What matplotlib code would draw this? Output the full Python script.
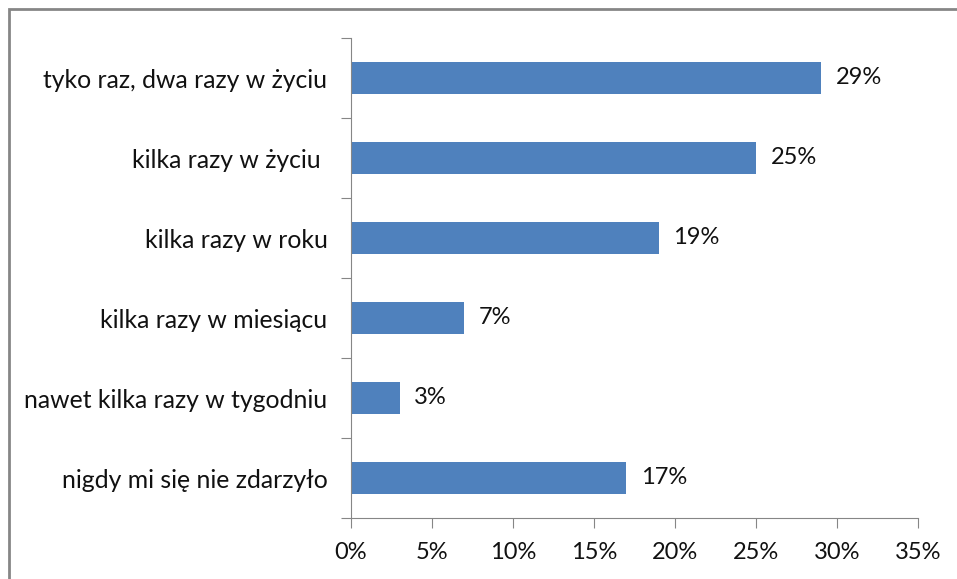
import matplotlib.pyplot as plt
from matplotlib.patches import Rectangle

# dane
kategorie = ['tyko raz, dwa razy w życiu', 'kilka razy w życiu ', 'kilka razy w roku',
             'kilka razy w miesiącu', 'nawet kilka razy w tygodniu', 'nigdy mi się nie zdarzyło']
wartosci = [29, 25, 19, 7, 3, 17]
x_ticki = [0, 5, 10, 15, 20, 25, 30, 35]

plt.rcParams['font.family'] = ['Lato', 'DejaVu Sans']

fig = plt.figure(figsize=(9.57, 5.79), dpi=100)
ax = fig.add_axes([351/957, 1 - 518/579, (918 - 351)/957, (518 - 38)/579])

# ramka wokół wykresu
fig.patches.append(Rectangle((9/957, -0.1), 1.2, 1 - 9/579 + 0.1, transform=fig.transFigure,
                             fill=False, edgecolor='#868686', linewidth=2))

n = len(kategorie)
pozycje = [n - 1 - i for i in range(n)]
ax.barh(pozycje, wartosci, height=0.4, color='#4F81BD')

for p, v in zip(pozycje, wartosci):
    ax.text(v + 0.9, p, f'{v}%', va='center', ha='left', fontsize=17, color='#111111')

ax.set_xlim(0, 35)
ax.set_ylim(-0.5, n - 0.5)
ax.set_xticks(x_ticki)
ax.set_xticklabels([f'{t}%' for t in x_ticki], fontsize=17, color='#111111')

# etykiety kategorii na środku, kreski na granicach
ax.set_yticks([i - 0.5 for i in range(n + 1)])
ax.set_yticklabels([])
ax.set_yticks(pozycje, minor=True)
ax.set_yticklabels(kategorie, minor=True, fontsize=17.8, color='#111111')
ax.tick_params(axis='y', which='minor', length=0, pad=17)
ax.tick_params(axis='y', which='major', length=7, color='#868686', direction='out')
ax.tick_params(axis='x', length=7, color='#868686', direction='out', pad=10)

for s in ['top', 'right']:
    ax.spines[s].set_visible(False)
for s in ['left', 'bottom']:
    ax.spines[s].set_color('#868686')

plt.savefig('out.png', dpi=100)
plt.close(fig)
